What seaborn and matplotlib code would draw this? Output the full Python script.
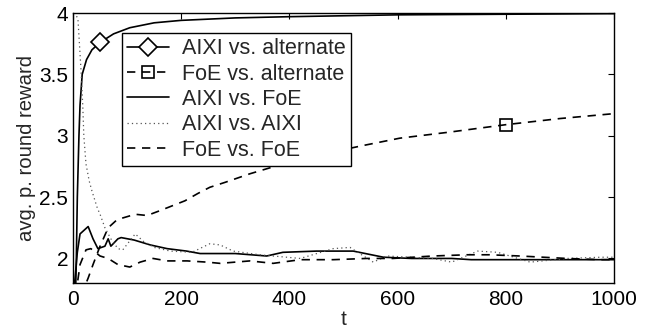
import matplotlib
matplotlib.use("Agg")
import matplotlib.pyplot as plt
import seaborn as sns
import numpy as np

sns.set_theme(style="white")
plt.rcParams['font.family'] = ['Liberation Sans', 'DejaVu Sans']

# ---- data ----
t_aixi_alt = [4, 6, 8, 11, 13, 17, 25, 35, 50, 75, 105, 150, 200, 300, 400, 600, 800, 1000]
y_aixi_alt = [1.6, 1.95, 2.5, 3.0, 3.25, 3.5, 3.62, 3.7, 3.76, 3.83, 3.88, 3.92, 3.94, 3.96,
              3.97, 3.985, 3.99, 3.995]

t_foe_alt = [15, 28, 37, 50, 65, 80, 92, 115, 137, 161, 207, 231, 253, 281, 327, 388, 450,
             536, 604, 697, 800, 900, 1000]
y_foe_alt = [1.7, 1.84, 1.95, 2.1, 2.25, 2.31, 2.33, 2.36, 2.35, 2.39, 2.47, 2.53, 2.58, 2.62,
             2.69, 2.77, 2.84, 2.92, 2.98, 3.03, 3.09, 3.14, 3.18]

t_aixi_foe = [3, 8, 13, 28, 37, 46, 59, 65, 70, 83, 89, 113, 143, 174, 210, 235, 259, 300, 358,
              388, 450, 518, 574, 626, 700, 736, 850, 1000]
y_aixi_foe = [1.8, 2.05, 2.2, 2.26, 2.16, 2.08, 2.1, 2.16, 2.1, 2.16, 2.17, 2.15, 2.11, 2.08,
              2.06, 2.04, 2.04, 2.04, 2.02, 2.05, 2.06, 2.06, 2.01, 2.0, 2.0, 1.99, 1.99, 1.99]

t_aixi_aixi = [1, 9, 15, 18, 20, 24, 30, 35, 45, 50, 59, 70, 83, 92, 115, 130, 150, 180, 220,
               253, 272, 296, 345, 420, 481, 512, 555, 580, 665, 700, 748, 785, 845, 913, 975, 1000]
y_aixi_aixi = [4.0, 3.96, 3.52, 3.25, 3.0, 2.77, 2.63, 2.55, 2.41, 2.36, 2.25, 2.16, 2.08, 2.07,
               2.2, 2.14, 2.09, 2.06, 2.05, 2.12, 2.11, 2.06, 2.03, 2.0, 2.08, 2.09, 1.97, 2.02,
               2.0, 1.97, 2.06, 2.05, 1.97, 2.0, 2.01, 2.01]

t_foe_foe = [5, 13, 24, 33, 50, 65, 83, 105, 124, 148, 174, 211, 248, 272, 327, 370, 420, 481,
             543, 591, 665, 728, 770, 826, 913, 974, 1000]
y_foe_foe = [1.7, 1.95, 2.07, 2.08, 2.02, 2.0, 1.95, 1.93, 1.97, 2.0, 1.98, 1.98, 1.97, 1.96,
             1.98, 1.96, 1.99, 1.99, 2.0, 2.0, 2.02, 2.03, 2.03, 2.02, 2.0, 1.99, 1.99]

labels = ["AIXI vs. alternate", "FoE vs. alternate", "AIXI vs. FoE", "AIXI vs. AIXI", "FoE vs. FoE"]
x_ticks = [0, 200, 400, 600, 800, 1000]
y_ticks = [2, 2.5, 3, 3.5, 4]

fig = plt.figure(figsize=(6.55, 3.29), dpi=100)
ax = fig.add_axes([73/655, 1 - 283/329, 541/655, 270/329])

sns.lineplot(x=t_aixi_alt, y=y_aixi_alt, ax=ax, color='black', lw=1.2, label=labels[0],
             marker='D', markevery=[t_aixi_alt.index(50)], ms=9, mfc='white', mec='black', mew=1.2)
sns.lineplot(x=t_foe_alt, y=y_foe_alt, ax=ax, color='black', lw=1.2, label=labels[1],
             linestyle=(0, (5, 4)),
             marker='s', markevery=[t_foe_alt.index(800)], ms=8, mfc='none', mec='black', mew=1.2)
sns.lineplot(x=t_aixi_foe, y=y_aixi_foe, ax=ax, color='black', lw=1.2, label=labels[2])
sns.lineplot(x=t_aixi_aixi, y=y_aixi_aixi, ax=ax, color='#555555', lw=0.9, label=labels[3],
             linestyle=(0, (1, 2.5)))
sns.lineplot(x=t_foe_foe, y=y_foe_foe, ax=ax, color='black', lw=1.2, label=labels[4],
             linestyle=(0, (5, 4)))

ax.set_xlim(0, 1000)
ax.set_ylim(1.8, 4)
ax.set_xticks(x_ticks)
ax.set_yticks(y_ticks)
ax.set_yticklabels([f"{v:g}" for v in y_ticks])
ax.tick_params(direction='in', top=True, right=True, length=4, width=0.8,
               labelsize=15, colors='black')
ax.tick_params(axis='x', pad=5)
ax.tick_params(axis='y', pad=3.5)
for s in ax.spines.values():
    s.set_color('black')
    s.set_linewidth(1.0)
ax.set_xlabel('t', fontsize=15, labelpad=1)
ax.set_ylabel('avg. p. round reward', fontsize=14.6, labelpad=2)

leg = ax.legend(loc='upper left', bbox_to_anchor=(0.09, 0.926), fontsize=15.5,
                frameon=True, fancybox=False, framealpha=1, edgecolor='black',
                handlelength=1.95, handletextpad=0.6, labelspacing=0.2,
                borderpad=0.25, borderaxespad=0)
leg.get_frame().set_linewidth(1.0)

fig.savefig('out.png', dpi=100)
